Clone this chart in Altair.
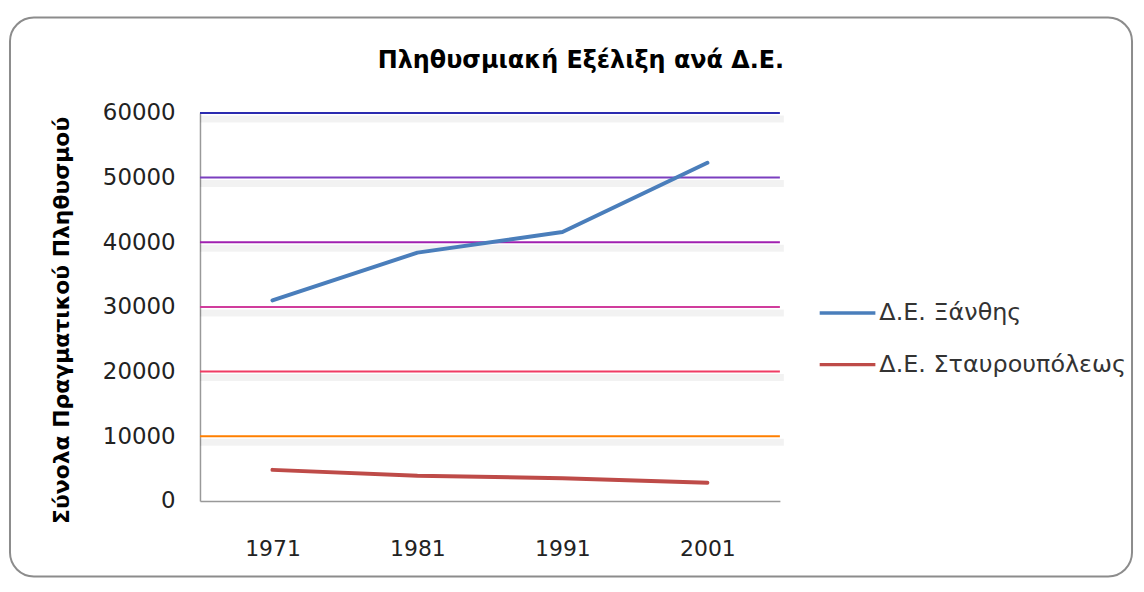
import altair as alt
import pandas as pd

# ---- data ----
years = ["1971", "1981", "1991", "2001"]
xanthi = [31000, 38400, 41600, 52300]
stavroupoli = [4800, 3900, 3500, 2800]
series_names = ["Δ.Ε. Ξάνθης", "Δ.Ε. Σταυρουπόλεως"]
series_colors = ["#4A7EBB", "#BE4B48"]
grid_values = [10000, 20000, 30000, 40000, 50000, 60000]
grid_colors = ["#FF7F00", "#F03C64", "#D03C9C", "#A020B0", "#7B3FBF", "#2B2BB0"]
y_ticks = [0, 10000, 20000, 30000, 40000, 50000, 60000]
chart_title = "Πληθυσμιακή Εξέλιξη ανά Δ.Ε."
y_title = "Σύνολα Πραγματικού Πληθυσμού"

FONT = "DejaVu Sans"

rows = []
for name, vals in zip(series_names, [xanthi, stavroupoli]):
    for y, v in zip(years, vals):
        rows.append({"year": y, "value": v, "series": name})
df = pd.DataFrame(rows)
grid_df = pd.DataFrame({"value": grid_values, "color": grid_colors})
one = pd.DataFrame({"k": [0]})

yscale = alt.Scale(domain=[0, 60000], nice=False, zero=True)

frame = alt.Chart(one).mark_rect(
    filled=False, stroke="#8c8c8c", strokeWidth=2, cornerRadius=24
).encode(
    x=alt.value(-191), x2=alt.value(937), y=alt.value(-96), y2=alt.value(466)
)

title = alt.Chart(one).mark_text(
    text=chart_title, font=FONT, fontSize=24, fontWeight="bold",
    align="center", baseline="middle", color="#000"
).encode(x=alt.value(383), y=alt.value(-52))

shadow = alt.Chart(grid_df).mark_rule(
    strokeWidth=7, color="#000", opacity=0.05, yOffset=6, xOffset=4
).encode(y=alt.Y("value:Q", scale=yscale))

grid = alt.Chart(grid_df).mark_rule(strokeWidth=2).encode(
    y=alt.Y("value:Q", scale=yscale),
    color=alt.Color("color:N", scale=None),
)

lines = alt.Chart(df).mark_line(strokeWidth=4, strokeCap="round", strokeJoin="round").encode(
    x=alt.X(
        "year:O",
        scale=alt.Scale(type="point", padding=0.5),
        sort=years,
        axis=alt.Axis(
            title=None, labelAngle=0, ticks=False, labelFont=FONT, labelFontSize=22,
            labelColor="#222", domainColor="#999", domainWidth=1.5, labelPadding=48,
            labelBaseline="middle",
        ),
    ),
    y=alt.Y(
        "value:Q",
        scale=yscale,
        axis=alt.Axis(
            values=y_ticks, format="d", ticks=False, grid=False,
            labelFont=FONT, labelFontSize=23, labelColor="#222", labelPadding=25,
            domainColor="#999", domainWidth=1.5,
            title=y_title, titleFont=FONT, titleFontSize=22, titleFontWeight="bold",
            titleColor="#000", titleX=-139, titleY=208, titleAngle=-90,
            titleAlign="center", titleBaseline="middle",
        ),
    ),
    color=alt.Color(
        "series:N",
        scale=alt.Scale(domain=series_names, range=series_colors),
        legend=alt.Legend(
            orient="none", legendX=621, legendY=171, title=None,
            symbolType="stroke", symbolSize=3136, symbolStrokeWidth=3.5,
            labelFont=FONT, labelFontSize=24, labelColor="#333", labelLimit=400,
            rowPadding=10, labelOffset=2,
        ),
    ),
    detail="series:N",
)

chart = alt.layer(frame, title, shadow, grid, lines).properties(
    width=583,
    height=390,
    autosize=alt.AutoSizeParams(type="none"),
    padding={"left": 193, "top": 104, "right": 358, "bottom": 78},
    background="white",
).configure_view(stroke=None)

chart.save("out.html", embed_options={"renderer": "svg", "actions": False})
